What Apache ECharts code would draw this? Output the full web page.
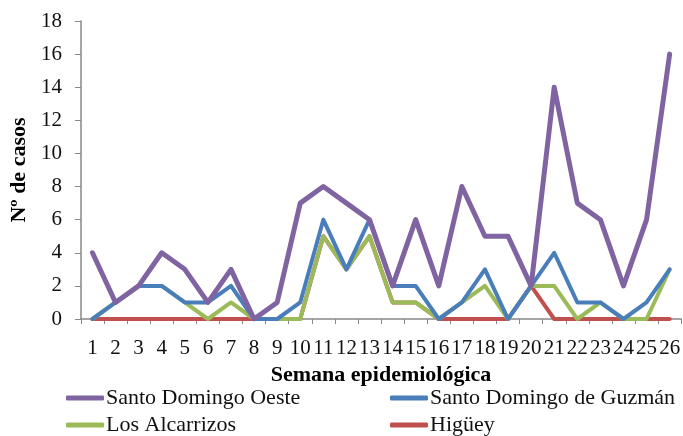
<!DOCTYPE html>
<html>
<head>
<meta charset="utf-8">
<script src="https://cdn.jsdelivr.net/npm/echarts@6/dist/echarts.min.js"></script>
<style>html,body{margin:0;padding:0;background:#fff;}#c{width:683px;height:436px;}</style>
</head>
<body>
<div id="c"></div>
<script>
const weeks = ['1','2','3','4','5','6','7','8','9','10','11','12','13','14','15','16','17','18','19','20','21','22','23','24','25','26'];
const santoDomingoOeste = [4,1,2,4,3,1,3,0,1,7,8,7,6,2,6,2,8,5,5,2,14,7,6,2,6,16];
const santoDomingoGuzman = [0,1,2,2,1,1,2,0,0,1,6,3,6,2,2,0,1,3,0,2,4,1,1,0,1,3];
const losAlcarrizos = [0,1,2,2,1,0,1,0,0,0,5,3,5,1,1,0,1,2,0,2,2,0,1,0,0,3];
const higuey = [0,0,0,0,0,0,0,0,0,0,5,3,5,1,1,0,0,0,0,2,0,0,0,0,0,0];
const yTicks = {min:0, max:18, interval:2};

const FONT = '"Liberation Serif", "DejaVu Serif", serif';
const chart = echarts.init(document.getElementById('c'), null, {renderer:'canvas'});
function s(name, data, color, width){
  return {name, type:'line', data, symbol:'none', smooth:false,
    lineStyle:{color, width, cap:'round', join:'round'}, itemStyle:{color}};
}
const legendText = {fontFamily:FONT, fontSize:22, lineHeight:20, color:'#111', padding:[0,0,0,-3]};
function lg(name, left, top){
  return {left, top, padding:0, itemWidth:38, itemHeight:5, icon:'roundRect',
    data:[name], textStyle:legendText};
}
chart.setOption({
  animation:false,
  grid:{left:75, right:0, top:21, bottom:117},
  textStyle:{fontFamily:FONT},
  xAxis:{type:'category', data:weeks, boundaryGap:true,
    name:'Semana epidemiológica', nameLocation:'middle', nameGap:43,
    nameTextStyle:{fontFamily:FONT, fontWeight:'bold', fontSize:22, color:'#000'},
    axisLine:{lineStyle:{color:'#888', width:1.5}},
    axisTick:{show:true, length:5, lineStyle:{color:'#888'}},
    axisLabel:{fontFamily:FONT, fontSize:21, color:'#111', margin:19, interval:0}},
  yAxis:{type:'value', min:yTicks.min, max:yTicks.max, interval:yTicks.interval,
    name:'Nº de casos', nameLocation:'middle', nameGap:47, nameRotate:90,
    nameTextStyle:{fontFamily:FONT, fontWeight:'bold', fontSize:22, color:'#000'},
    splitLine:{show:false},
    axisLine:{show:true, lineStyle:{color:'#888', width:1.5}},
    axisTick:{show:true, length:6, lineStyle:{color:'#888'}},
    axisLabel:{fontFamily:FONT, fontSize:21, color:'#111', margin:19}},
  legend:[
    lg('Santo Domingo Oeste', 66, 387),
    lg('Los Alcarrizos', 66, 414),
    lg('Santo Domingo de Guzmán', 390, 387),
    lg('Higüey', 390, 414)
  ],
  series:[
    s('Higüey', higuey, '#C0504D', 4),
    s('Los Alcarrizos', losAlcarrizos, '#9BBB59', 4),
    s('Santo Domingo de Guzmán', santoDomingoGuzman, '#4A7EBB', 4),
    s('Santo Domingo Oeste', santoDomingoOeste, '#8064A2', 5)
  ]
});
</script>
</body>
</html>
